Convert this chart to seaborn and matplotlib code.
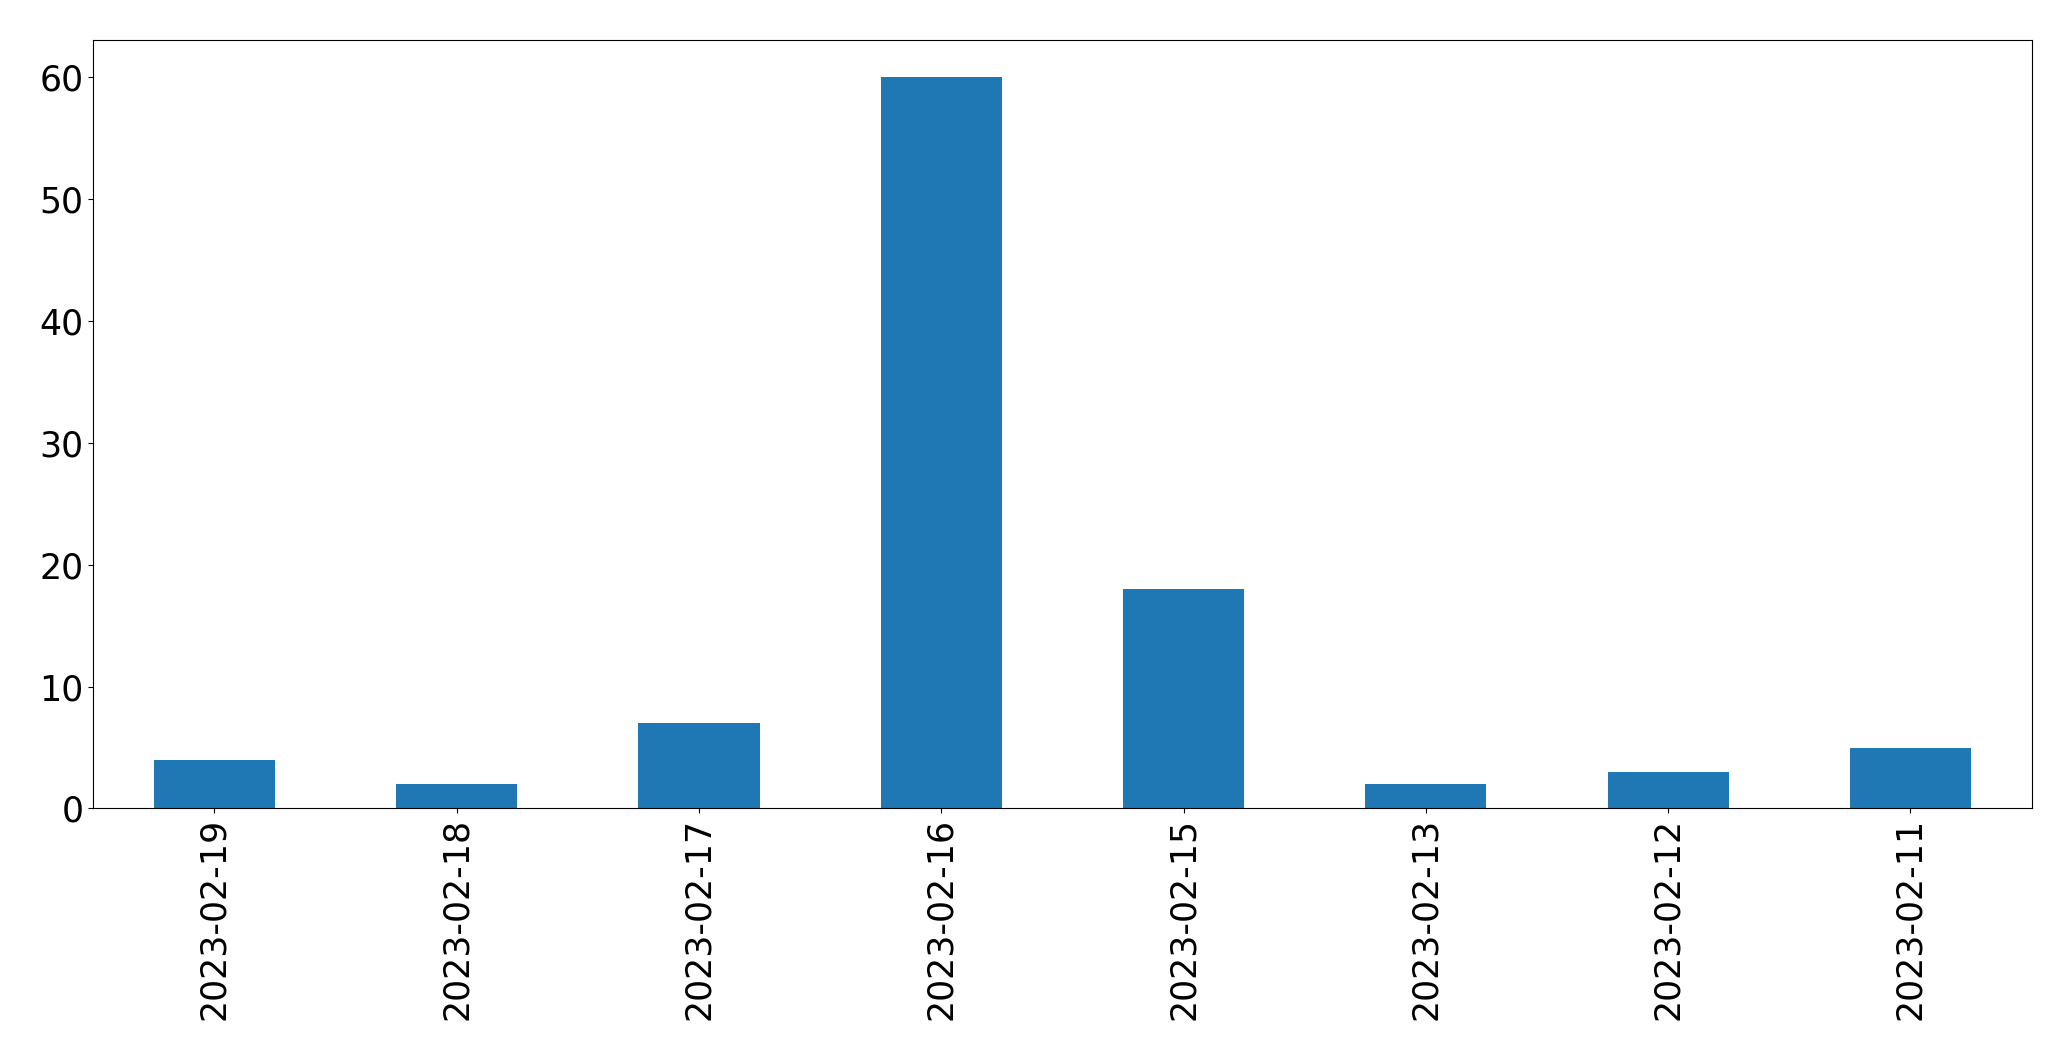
# Import libraries
import pandas as pd
import seaborn as sns
import matplotlib
matplotlib.use("Agg")
import matplotlib.pyplot as plt

# Data
dates = ["2023-02-19", "2023-02-18", "2023-02-17", "2023-02-16",
         "2023-02-15", "2023-02-13", "2023-02-12", "2023-02-11"]
counts = [4, 2, 7, 60, 18, 2, 3, 5]

df = pd.DataFrame({"date": dates, "count": counts})

fig, ax = plt.subplots(figsize=(20.71, 10.61), dpi=100)
sns.barplot(x="date", y="count", data=df, color="#1f77b4",
            saturation=1, width=0.5, ax=ax)

ax.set_xlim(-0.5, len(dates) - 0.5)
ax.set_ylim(0, max(counts) * 1.05)
ax.set_xlabel("")
ax.set_ylabel("")
ax.tick_params(axis="both", labelsize=25)
plt.setp(ax.get_xticklabels(), rotation=90)

plt.subplots_adjust(left=0.045, right=0.981, top=0.962, bottom=0.238)
plt.savefig("out.png", dpi=100)
